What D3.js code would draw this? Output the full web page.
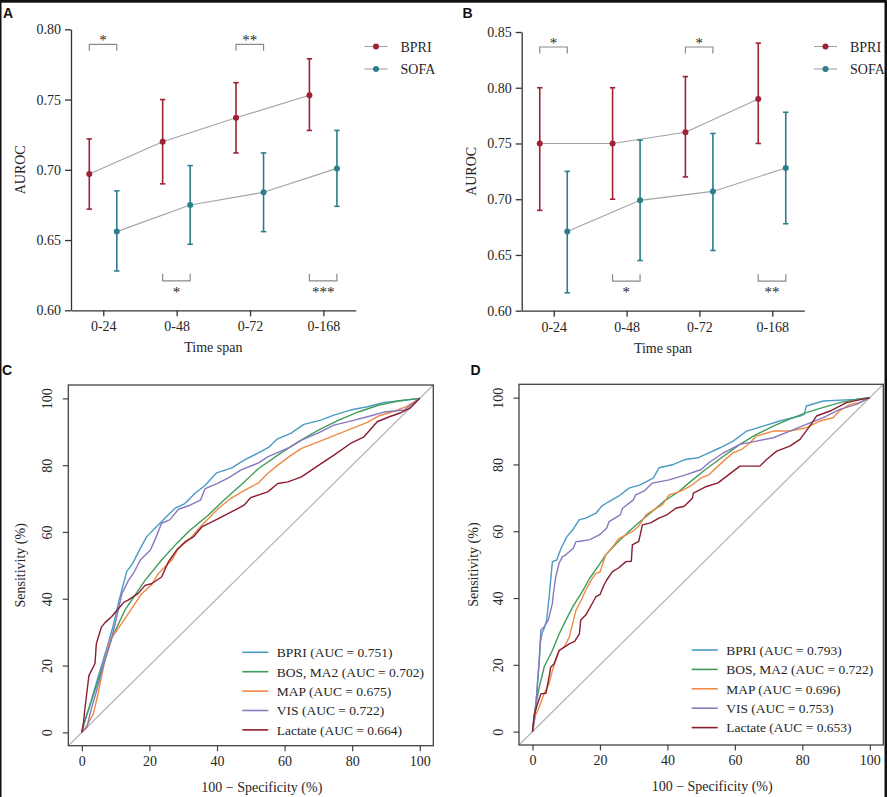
<!DOCTYPE html>
<html>
<head>
<meta charset="utf-8">
<script src="https://cdn.jsdelivr.net/npm/d3@7"></script>
<style>
    body { margin: 0; background: #fff; }
    svg text { font-family: 'Liberation Serif', 'DejaVu Serif', serif; fill: #262626; }
    svg text.panel-letter { font-family: 'Liberation Sans', Arial, sans-serif; font-weight: bold; fill: #111; }
</style>
</head>
<body>
<div id="chart"></div>
<script>
// #region Data

const timeSpans = ['0-24', '0-48', '0-72', '0-168'];
const seriesNames = ['BPRI', 'SOFA'];
const seriesColors = ['#9b2333', '#2b7f8c'];

// Panel A
const bpriA = [0.697, 0.720, 0.737, 0.753];
const bpriALow = [0.672, 0.690, 0.712, 0.728];
const bpriAHigh = [0.722, 0.750, 0.762, 0.779];
const sofaA = [0.656, 0.675, 0.684, 0.701];
const sofaALow = [0.628, 0.647, 0.656, 0.674];
const sofaAHigh = [0.685, 0.703, 0.712, 0.728];
const sigA = ['*', '*', '**', '***'];
const ticksA = [0.60, 0.65, 0.70, 0.75, 0.80];

// Panel B
const bpriB = [0.750, 0.750, 0.760, 0.790];
const bpriBLow = [0.690, 0.700, 0.720, 0.750];
const bpriBHigh = [0.800, 0.800, 0.810, 0.840];
const sofaB = [0.671, 0.699, 0.707, 0.728];
const sofaBLow = [0.616, 0.645, 0.654, 0.678];
const sofaBHigh = [0.725, 0.753, 0.759, 0.778];
const sigB = ['*', '*', '*', '**'];
const ticksB = [0.60, 0.65, 0.70, 0.75, 0.80, 0.85];

// ROC panels
const rocNames = ['BPRI', 'BOS, MA2', 'MAP', 'VIS', 'Lactate'];
const rocColors = ['#4b9ac4', '#3f9c5a', '#ef8a47', '#8878be', '#8a1d2e'];
const aucC = ['0.751', '0.702', '0.675', '0.722', '0.664'];
const aucD = ['0.793', '0.722', '0.696', '0.753', '0.653'];
const rocTicks = [0, 20, 40, 60, 80, 100];

// [100 - specificity, sensitivity]
const bpriC = [[0,0],[0.5,2],[1.9,6.5],[3.2,11],[4.8,16.5],[6.3,21.5],[7.8,26.6],[9.3,32],[10.8,38.6],[12.2,44.1],[13.3,48.2],[15,50.5],[17,54.5],[19.2,58.6],[22,61.5],[24.5,64],[27.6,67.1],[30.5,68.5],[33.5,71.6],[36.5,74],[39.9,77.7],[44.4,79.2],[48,81.5],[52.3,83.7],[55.5,85.5],[57.8,87.8],[61.8,89.5],[65.7,92.2],[70.7,93.5],[74.6,95],[79.5,96.5],[84.5,97.5],[89.4,98.8],[94.4,99.3],[100,100]];
const bosC = [[0,0],[1,4],[2.9,9.5],[5.8,18.5],[8.8,28],[12.7,36.5],[18.7,45.5],[23.6,51.6],[28,56.5],[32,60.5],[37.4,65],[42,69.5],[47,74],[52.3,79],[58,83],[64,87],[70,90.5],[76,93.5],[82,96],[88,98],[94,99.3],[100,100]];
const mapC = [[0,0],[1.5,2],[3.4,5.5],[4.8,11.5],[6.8,21.5],[8.3,27.5],[12.7,34],[17.7,41.5],[20.6,44.1],[22.6,47.5],[26.6,51.5],[28.5,55],[32,58],[35.5,62],[40.4,67],[44,70],[47.3,72],[52.3,74.7],[55,77.5],[58,80],[62,83],[65,85],[70,87],[75,89],[80,91],[84.5,92.8],[88,94.8],[92,96],[96,97.5],[100,100]];
const visC = [[0,0],[1.5,1.5],[2.8,7],[4.4,12.5],[6.2,19.5],[8.4,26.6],[9.9,32.6],[11.9,41.6],[13.8,45.5],[15.5,48],[17.3,51.6],[20.3,54.6],[21.8,58],[23.6,62.6],[26,63.6],[28.6,66.8],[32,68],[35.1,69.5],[36.5,73],[40,74.5],[43.4,76.2],[47,78.5],[52.3,80.7],[55,82.5],[61.8,85.5],[65,87.5],[69.7,89.5],[74.6,92],[79.5,93.2],[84.5,94.5],[89.4,95.9],[95.4,96.5],[100,100]];
const lactateC = [[0,0],[0.5,3],[0.9,7],[1.5,12],[2.1,17],[3.9,20.6],[4.3,26.6],[5.8,31.5],[7,33],[8.8,34.6],[11.3,37.6],[12.5,39],[13.7,39.6],[16.7,41.6],[18.7,44],[20.6,44.5],[23.6,46.5],[25.6,51],[28,54.5],[30.5,57],[33,58.5],[35.5,61.5],[40.4,64],[45.4,66.6],[48,68],[50,70.3],[55,72],[58,74.5],[61,75],[65,76.5],[69.7,79.7],[74.6,83],[79.5,86.5],[83.5,88.5],[87.4,93],[91,94.5],[94.4,95.7],[97,97],[100,100]];

const bpriD = [[0,0],[0.5,4.3],[1.3,11.3],[2,21.3],[2.3,26.4],[2.8,29.4],[3.5,31],[4.2,33.4],[5,41],[5.9,50.9],[7.2,51.4],[8.5,55],[10.2,58.4],[12,60.5],[13.8,63.4],[16,64],[18.8,65.4],[20.5,67.5],[22.7,68.9],[25.5,70.5],[28.6,72.9],[31.9,73.9],[35.8,75.9],[37.5,79],[41.8,80],[45.4,81.5],[49,82],[52.3,83.5],[55.6,85],[59.5,87],[63.5,90],[68.4,91.5],[73.3,93],[79.3,94.5],[80.5,95],[81.2,97.5],[86.2,99],[96,99.5],[100,100]];
const bosD = [[0,0],[0.5,4],[1,8],[2,13.3],[3.5,19.5],[5.9,24.3],[7.8,29],[9.9,33.4],[12,37.5],[14.8,42],[17,46],[19.8,50],[21.7,52.9],[25,56.5],[28.6,59.9],[32,63],[35.5,65.9],[39,69],[43.4,71.9],[47,75],[51.3,78.5],[56,82],[61.5,86],[66,88.8],[71.4,91.5],[76,93.5],[81.2,95.5],[86,97],[91.1,98.5],[96,99.5],[100,100]];
const mapD = [[0,0],[0.9,5],[2,7.3],[3.4,11.3],[4.9,14.3],[5.9,18.3],[7.9,24.3],[9.5,25.5],[10.9,28.3],[12.9,36.4],[14.5,39.5],[15.8,42.4],[17.5,45.5],[18.8,47.4],[20,47.8],[21.7,52.9],[23.5,55],[25.7,57.9],[29.6,59.9],[31.5,61.5],[33.6,64.9],[36,66.5],[38.5,67.9],[40.5,70.9],[44,72],[47.4,73.9],[50,76],[52.3,76.9],[56.6,81],[59.5,83.5],[62,84.5],[64.5,86.5],[66.4,88.5],[71.4,90],[76.3,90],[81.2,91],[85.2,93],[89.1,94],[91,96],[94.1,98],[97,98.5],[100,100]];
const visD = [[0,0],[0.5,3],[1,8],[1.5,15],[2,21.3],[2.5,30.4],[3.4,31.3],[4.7,33.4],[5.9,38.4],[6.2,41.4],[6.9,46.4],[7.9,50.5],[8.9,52.4],[9.7,52.8],[12.1,54.9],[12.9,56.9],[14.1,57],[17,57.5],[19.8,58.9],[22,60.9],[22.7,62.9],[26,64.9],[26.7,66.9],[29.9,69.4],[30.6,70.9],[33,72],[35.5,74.4],[40.5,75.4],[45.4,76.9],[50,78.5],[52.3,80.5],[56.6,83.5],[61.5,86],[66.4,87],[71.4,88],[76.3,90],[81.2,92],[86.2,94],[91.1,96.5],[96,98],[100,100]];
const lactateD = [[0,0],[0.5,5],[1.5,8.3],[2.5,11.3],[4,11.5],[4.9,16.3],[5.4,19.3],[6.4,20.3],[7.9,24.3],[9,25],[10.9,26.3],[12.5,27],[13.9,29.3],[14.3,33.4],[15.8,34.9],[17.5,38],[18.8,40.4],[20,41],[21.2,43.9],[22,45.4],[23.7,47.9],[25.5,49],[27.7,50.9],[29.3,51],[29.6,55.9],[31.5,57],[32.6,61.9],[35,62.5],[37.5,63.9],[40,65],[42.5,66.9],[45,67.5],[47.4,69.9],[47.7,71.4],[51.6,73.4],[55,74.5],[57.6,76.5],[61.5,79.5],[67.4,79.5],[69.4,81.5],[72.4,84],[76.3,85.5],[79.3,87.5],[82.2,91.5],[84.2,94.5],[88.2,96],[93.1,98.5],[100,100]];

// #endregion

const width = 887,
    height = 797;

let svg = d3.select('#chart')
    .append('svg')
    .attr('width', width)
    .attr('height', height);

svg.append('rect')
    .attr('width', width)
    .attr('height', height)
    .attr('fill', '#fff');

// #region AUROC panels

function drawAurocPanel(cfg) {
    let g = svg.append('g');

    let x = d3.scalePoint()
        .domain(timeSpans)
        .range([cfg.left, cfg.right])
        .padding(0.44);

    let dodge = d3.scalePoint()
        .domain(seriesNames)
        .range([-14, 13.5]);

    let y = d3.scaleLinear()
        .domain([ticksA[0], cfg.ticks[cfg.ticks.length - 1]])
        .range([cfg.bottom, cfg.top]);

    // Axes
    let yAxis = g.append('g')
        .attr('transform', 'translate(' + cfg.left + ',0)')
        .call(d3.axisLeft(y).tickValues(cfg.ticks).tickFormat(d3.format('.2f')).tickSize(6).tickSizeOuter(0).tickPadding(4));

    let xAxis = g.append('g')
        .attr('transform', 'translate(0,' + cfg.bottom + ')')
        .call(d3.axisBottom(x).tickSize(6).tickSizeOuter(0).tickPadding(5));

    [xAxis, yAxis].forEach(function(axis) {
        axis.selectAll('path, line').attr('stroke', '#333').attr('stroke-width', 1.3);
        axis.selectAll('text').attr('font-size', 14).attr('fill', '#262626')
            .style('font-family', "'Liberation Serif', serif");
    });

    g.append('text')
        .attr('transform', 'translate(' + (cfg.left - 46) + ',' + ((cfg.top + cfg.bottom) / 2) + ') rotate(-90)')
        .attr('text-anchor', 'middle')
        .attr('font-size', 14)
        .text('AUROC');

    g.append('text')
        .attr('x', (cfg.left + cfg.right) / 2)
        .attr('y', cfg.bottom + 42)
        .attr('text-anchor', 'middle')
        .attr('font-size', 14)
        .text('Time span');

    g.append('text')
        .attr('class', 'panel-letter')
        .attr('x', cfg.letterX)
        .attr('y', 18)
        .attr('font-size', 14)
        .text(cfg.letter);

    // Significance brackets: alternate between top and bottom
    cfg.sig.forEach(function(label, i) {
        let x1 = x(timeSpans[i]) + dodge('BPRI'),
            x2 = x(timeSpans[i]) + dodge('SOFA');
        let onTop = i % 2 === 0;
        let yLine = onTop ? cfg.top + 15 : cfg.bottom - 29.5;
        let yLeg = onTop ? yLine + 6.5 : yLine - 7;

        g.append('path')
            .attr('d', 'M' + x1 + ',' + yLeg + 'V' + yLine + 'H' + x2 + 'V' + yLeg)
            .attr('fill', 'none')
            .attr('stroke', '#8a8a8a')
            .attr('stroke-width', 1.2);

        g.append('text')
            .attr('x', (x1 + x2) / 2)
            .attr('y', onTop ? yLine + 1 : yLine + 16)
            .attr('text-anchor', 'middle')
            .attr('font-size', 15)
            .attr('fill', '#6a6a6a')
            .text(label);
    });

    // Series: connecting line, error bars, points
    cfg.series.forEach(function(s, k) {
        let pts = timeSpans.map(function(t, i) {
            return {x: x(t) + dodge(seriesNames[k]), v: s.values[i], lo: s.low[i], hi: s.high[i]};
        });

        g.append('path')
            .datum(pts)
            .attr('fill', 'none')
            .attr('stroke', '#a3a3a3')
            .attr('stroke-width', 1.1)
            .attr('d', d3.line().x(d => d.x).y(d => y(d.v)));

        let bars = g.selectAll('.err' + k)
            .data(pts)
            .enter()
            .append('g')
            .attr('class', 'err' + k)
            .attr('stroke', seriesColors[k])
            .attr('stroke-width', 1.6);

        bars.append('line')
            .attr('x1', d => d.x).attr('x2', d => d.x)
            .attr('y1', d => y(d.lo)).attr('y2', d => y(d.hi));
        bars.append('line')
            .attr('x1', d => d.x - 2.7).attr('x2', d => d.x + 2.7)
            .attr('y1', d => y(d.lo)).attr('y2', d => y(d.lo));
        bars.append('line')
            .attr('x1', d => d.x - 2.7).attr('x2', d => d.x + 2.7)
            .attr('y1', d => y(d.hi)).attr('y2', d => y(d.hi));

        g.selectAll('.pt' + k)
            .data(pts)
            .enter()
            .append('circle')
            .attr('class', 'pt' + k)
            .attr('cx', d => d.x)
            .attr('cy', d => y(d.v))
            .attr('r', 3)
            .attr('fill', seriesColors[k]);

        // Legend
        let ly = 46.5 + k * 22.5;
        g.append('line')
            .attr('x1', cfg.legendX).attr('x2', cfg.legendX + 23)
            .attr('y1', ly).attr('y2', ly)
            .attr('stroke', '#a3a3a3').attr('stroke-width', 1.1);
        g.append('circle')
            .attr('cx', cfg.legendX + 11.5).attr('cy', ly).attr('r', 3)
            .attr('fill', seriesColors[k]);
        g.append('text')
            .attr('x', cfg.legendX + 36)
            .attr('y', ly + 5)
            .attr('font-size', 14)
            .text(seriesNames[k]);
    });
}

drawAurocPanel({
    letter: 'A', letterX: 3,
    left: 71, right: 355.7, top: 29.3, bottom: 310.3,
    ticks: ticksA, sig: sigA, legendX: 364.5,
    series: [
        {values: bpriA, low: bpriALow, high: bpriAHigh},
        {values: sofaA, low: sofaALow, high: sofaAHigh}
    ]
});

drawAurocPanel({
    letter: 'B', letterX: 462.5,
    left: 521.7, right: 804.3, top: 32, bottom: 310.7,
    ticks: ticksB, sig: sigB, legendX: 814,
    series: [
        {values: bpriB, low: bpriBLow, high: bpriBHigh},
        {values: sofaB, low: sofaBLow, high: sofaBHigh}
    ]
});

// #endregion

// #region ROC panels

function drawRocPanel(cfg) {
    let g = svg.append('g');

    let x = d3.scaleLinear().domain([-4, 104]).range([cfg.left, cfg.right]);
    let y = d3.scaleLinear().domain([-4, 104]).range([cfg.bottom, cfg.top]);

    // Reference diagonal across the whole box
    g.append('line')
        .attr('x1', x(-4)).attr('y1', y(-4))
        .attr('x2', x(104)).attr('y2', y(104))
        .attr('stroke', '#b5b5b5')
        .attr('stroke-width', 1.2);

    let line = d3.line()
        .x(d => x(d[0]))
        .y(d => y(d[1]));

    // Draw lactate first so lighter curves sit on top, as in the figure
    cfg.curves.forEach(function(c, i) {
        g.append('path')
            .datum(c)
            .attr('fill', 'none')
            .attr('stroke', rocColors[i])
            .attr('stroke-width', 1.4)
            .attr('stroke-linejoin', 'round')
            .attr('d', line);
    });

    g.append('rect')
        .attr('x', cfg.left)
        .attr('y', cfg.top)
        .attr('width', cfg.right - cfg.left)
        .attr('height', cfg.bottom - cfg.top)
        .attr('fill', 'none')
        .attr('stroke', '#444')
        .attr('stroke-width', 1.3);

    let xAxis = g.append('g')
        .attr('transform', 'translate(0,' + cfg.bottom + ')')
        .call(d3.axisBottom(x).tickValues(rocTicks).tickSize(5.5).tickPadding(5));

    let yAxis = g.append('g')
        .attr('transform', 'translate(' + cfg.left + ',0)')
        .call(d3.axisLeft(y).tickValues(rocTicks).tickSize(5.5).tickPadding(5));

    [xAxis, yAxis].forEach(function(axis) {
        axis.select('.domain').remove();
        axis.selectAll('line').attr('stroke', '#444').attr('stroke-width', 1.2);
        axis.selectAll('text').attr('font-size', 14).attr('fill', '#262626')
            .style('font-family', "'Liberation Serif', serif");
    });

    // Y tick labels parallel to the axis
    yAxis.selectAll('text')
        .attr('text-anchor', 'middle')
        .attr('dy', null)
        .attr('x', null)
        .attr('transform', 'translate(' + (-16.5) + ',0) rotate(-90)');

    g.append('text')
        .attr('transform', 'translate(' + cfg.yTitleX + ',' + ((cfg.top + cfg.bottom) / 2) + ') rotate(-90)')
        .attr('text-anchor', 'middle')
        .attr('font-size', 14)
        .text('Sensitivity (%)');

    g.append('text')
        .attr('x', (cfg.left + cfg.right) / 2 + 11)
        .attr('y', cfg.bottom + 46)
        .attr('text-anchor', 'middle')
        .attr('font-size', 14)
        .text('100 \u2212 Specificity (%)');

    g.append('text')
        .attr('class', 'panel-letter')
        .attr('x', cfg.letterX)
        .attr('y', 375)
        .attr('font-size', 14)
        .text(cfg.letter);

    // Legend
    rocNames.forEach(function(name, i) {
        let ly = cfg.legendY + i * 19.4;
        g.append('line')
            .attr('x1', cfg.legendX).attr('x2', cfg.legendX + 26)
            .attr('y1', ly).attr('y2', ly)
            .attr('stroke', rocColors[i])
            .attr('stroke-width', 1.6);
        g.append('text')
            .attr('x', cfg.legendX + 34.5)
            .attr('y', ly + 4.8)
            .attr('font-size', 13.5)
            .text(name + ' (AUC = ' + cfg.auc[i] + ')');
    });
}

drawRocPanel({
    letter: 'C', letterX: 2,
    left: 68.3, right: 433.3, top: 385, bottom: 745.7,
    yTitleX: 25, legendX: 242.3, legendY: 652.3,
    auc: aucC,
    curves: [bpriC, bosC, mapC, visC, lactateC]
});

drawRocPanel({
    letter: 'D', letterX: 470.5,
    left: 519, right: 883.3, top: 384.3, bottom: 745,
    yTitleX: 478, legendX: 691.7, legendY: 650,
    auc: aucD,
    curves: [bpriD, bosD, mapD, visD, lactateD]
});

// #endregion

// Dark scan border around the figure
svg.append('rect').attr('x', 0).attr('y', 0).attr('width', width).attr('height', 2.7).attr('fill', '#111');
svg.append('rect').attr('x', 0).attr('y', 0).attr('width', 1.5).attr('height', height).attr('fill', '#111');
svg.append('rect').attr('x', 884.5).attr('y', 0).attr('width', 2.5).attr('height', height).attr('fill', '#111');
</script>
</body>
</html>
